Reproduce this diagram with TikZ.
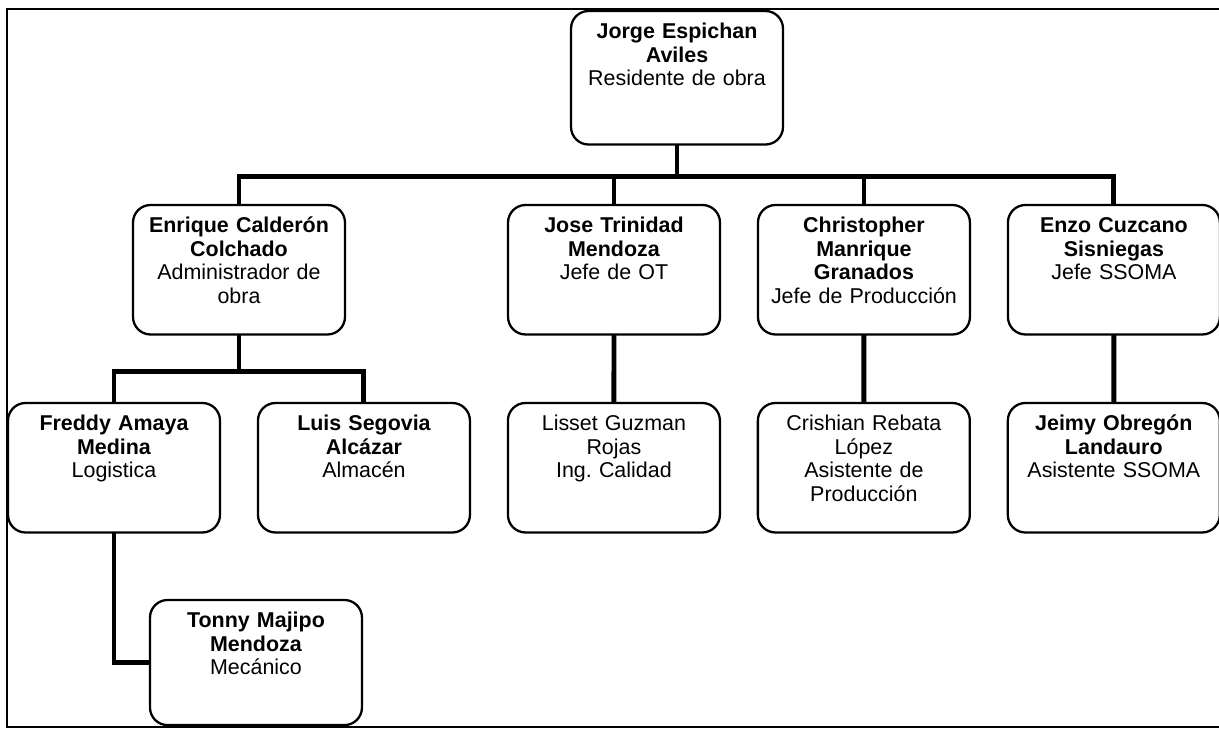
\documentclass[tikz,border=0pt]{standalone}
\usepackage{fontspec}
\setmainfont{Liberation Sans}
\usepackage{tikz}
\usetikzlibrary{positioning}

\begin{document}
\begin{tikzpicture}[
    x=0.02cm, y=-0.02cm,
    node distance=1.36cm and 0.76cm,
    cargo/.style={rectangle, draw=black, line width=1.3pt, rounded corners=10pt, fill=white,
                  align=center, font=\fontsize{12.2pt}{13.4pt}\selectfont,
                  text width=3.92cm, inner xsep=0.16cm, inner ysep=7pt, outer sep=0pt,
                  text height=8.7pt, text depth=51pt},
    linea/.style={draw=black, line width=2.8pt}
]
\clip (0,0) rectangle (1219,729);

%% ===== FRAME =====
\draw[line width=1pt] (7,9) rectangle (1235,727);

%% ===== TOP =====
\node[cargo, anchor=north, text depth=53.3pt] (jorge) at (677,11)
      {\textbf{Jorge Espichan\\Aviles}\\Residente de obra};

%% ===== ROW 2 =====
\node[cargo, anchor=north] (enrique) at (239,205)
      {\textbf{Enrique Calderón\\Colchado}\\Administrador de\\obra};
\node[cargo, anchor=north] (jose) at (614,205)
      {\textbf{Jose Trinidad\\Mendoza}\\Jefe de OT};
\node[cargo, right=0.76cm of jose]        (christopher)
      {\textbf{Christopher\\Manrique\\Granados}\\Jefe de Producción};
\node[cargo, right=0.76cm of christopher] (enzo)
      {\textbf{Enzo Cuzcano\\Sisniegas}\\Jefe SSOMA};

%% ===== ROW 3 =====
\node[cargo, anchor=north] (freddy) at (114,403)
      {\textbf{Freddy Amaya\\Medina}\\Logistica};
\node[cargo, right=0.76cm of freddy]   (luis)
      {\textbf{Luis Segovia\\Alcázar}\\Almacén};
\node[cargo, right=0.76cm of luis]     (lisset)
      {Lisset Guzman\\Rojas\\Ing.\ Calidad};
\node[cargo, right=0.76cm of lisset]   (crishian)
      {Crishian Rebata\\López\\Asistente de\\Producción};
\node[cargo, right=0.76cm of crishian] (jeimy)
      {\textbf{Jeimy Obregón\\Landauro}\\Asistente SSOMA};

%% ===== ROW 4 =====
\node[cargo, anchor=north west, text depth=48.5pt] (tonny) at (150,600)
      {\textbf{Tonny Majipo\\Mendoza}\\Mecánico};

%% ===== CONNECTORS =====
\draw[linea] (jorge.south) -- ++(0,32) -| (enrique.north);
\draw[linea] (jorge.south) -- ++(0,32) -| (jose.north);
\draw[linea] (jorge.south) -- ++(0,32) -| (christopher.north);
\draw[linea] (jorge.south) -- ++(0,32) -| (enzo.north);

\draw[linea] (enrique.south) -- ++(0,37) -| (freddy.north);
\draw[linea] (enrique.south) -- ++(0,37) -| (luis.north);
\draw[linea] (jose)        -- (lisset);
\draw[linea] (christopher) -- (crishian);
\draw[linea] (enzo)        -- (jeimy);
\draw[linea] (freddy.south) |- (tonny.west);

\end{tikzpicture}
\end{document}
